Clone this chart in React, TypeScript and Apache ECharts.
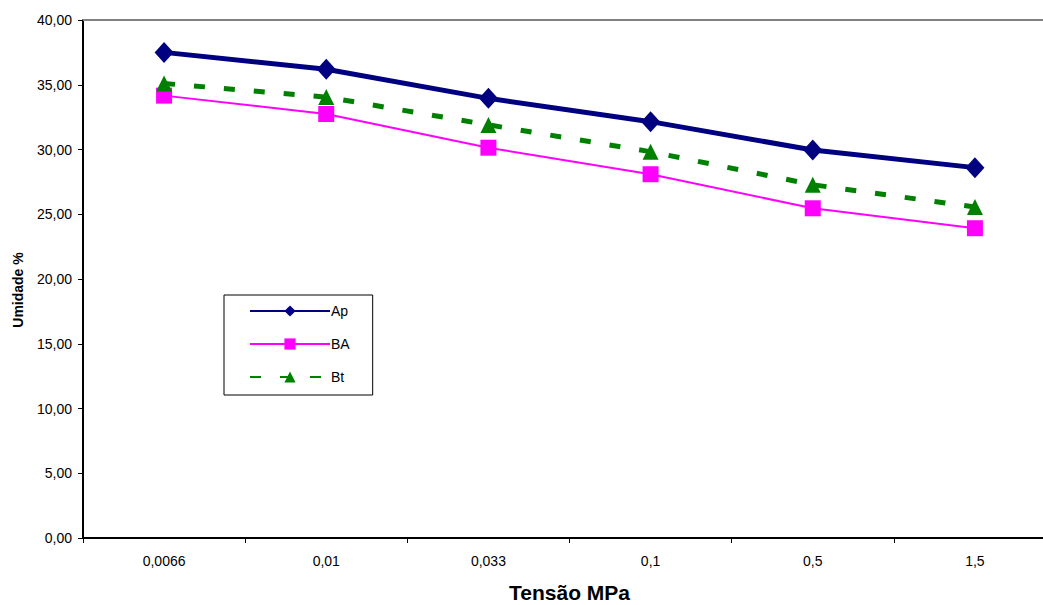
import React, { useEffect, useRef } from "react";
import * as echarts from "echarts";

const categories = ["0,0066", "0,01", "0,033", "0,1", "0,5", "1,5"];
const apValues = [37.5, 36.2, 33.95, 32.15, 29.96, 28.6];
const baValues = [34.16, 32.74, 30.14, 28.09, 25.46, 23.92];
const btValues = [35.1, 34.05, 31.9, 29.83, 27.28, 25.56];
const yTicks = { min: 0, max: 40, interval: 5 };

const FONT = "'Liberation Sans', Arial, sans-serif";

export default function App() {
  const ref = useRef<HTMLDivElement>(null);
  useEffect(() => {
    if (!ref.current) return;
    const chart = echarts.init(ref.current, null, { renderer: "svg" });
    chart.setOption({
      animation: false,
      backgroundColor: "#ffffff",
      textStyle: { fontFamily: FONT },
      grid: {
        left: 83,
        top: 20,
        bottom: 67,
        right: -13,
        containLabel: false,
        outerBoundsMode: "none",
      },
      legend: {
        orient: "vertical",
        left: 224,
        top: 295,
        width: 150,
        padding: [9, 23, 11, 25],
        itemWidth: 80,
        itemHeight: 14,
        itemGap: 19,
        borderColor: "#000000",
        borderWidth: 1,
        textStyle: { fontFamily: FONT, fontSize: 14, color: "#000", padding: [0, 0, 0, -4] },
        data: ["Ap", "BA", "Bt"],
      },
      xAxis: [
        {
          type: "category",
          data: categories,
          boundaryGap: true,
          name: "Tensão MPa",
          nameLocation: "middle",
          nameGap: 44,
          nameTextStyle: { fontFamily: FONT, fontSize: 21, fontWeight: "bold", color: "#000" },
          axisLine: { lineStyle: { color: "#000", width: 2 } },
          axisTick: { show: true, length: 5, lineStyle: { color: "#000", width: 1 } },
          axisLabel: { fontFamily: FONT, fontSize: 14, color: "#000", margin: 16 },
          splitLine: { show: false },
        },
        {
          type: "category",
          data: categories,
          position: "top",
          axisLine: { lineStyle: { color: "#808080", width: 2 } },
          axisTick: { show: false },
          axisLabel: { show: false },
        },
      ],
      yAxis: {
        type: "value",
        min: yTicks.min,
        max: yTicks.max,
        interval: yTicks.interval,
        name: "Umidade %",
        nameLocation: "middle",
        nameGap: 58,
        nameTextStyle: {
          fontFamily: FONT,
          fontSize: 14,
          fontWeight: "bold",
          color: "#000",
          padding: [0, 22, 0, 0],
        },
        axisLine: { show: true, lineStyle: { color: "#000", width: 2 } },
        axisTick: { show: true, length: 5, lineStyle: { color: "#000", width: 1 } },
        axisLabel: {
          fontFamily: FONT,
          fontSize: 14,
          color: "#000",
          margin: 11,
          formatter: (v: number) => v.toFixed(2).replace(".", ","),
        },
        splitLine: { show: false },
      },
      series: [
        {
          name: "Ap",
          type: "line",
          data: apValues,
          symbol: "diamond",
          symbolSize: [19, 21],
          itemStyle: { color: "#000080" },
          lineStyle: { color: "#000080", width: 5 },
          z: 4,
        },
        {
          name: "BA",
          type: "line",
          data: baValues,
          symbol: "rect",
          symbolSize: 16,
          itemStyle: { color: "#ff00ff" },
          lineStyle: { color: "#ff00ff", width: 2 },
          z: 2,
        },
        {
          name: "Bt",
          type: "line",
          data: btValues,
          symbol: "triangle",
          symbolSize: 16,
          itemStyle: { color: "#008000" },
          lineStyle: { color: "#008000", width: 5, type: [11, 19] },
          z: 3,
        },
      ],
    });
    return () => chart.dispose();
  }, []);
  return (
    <div
      ref={ref}
      style={{ position: "fixed", left: 0, top: 0, width: 1043, height: 605, background: "#fff" }}
    />
  );
}
